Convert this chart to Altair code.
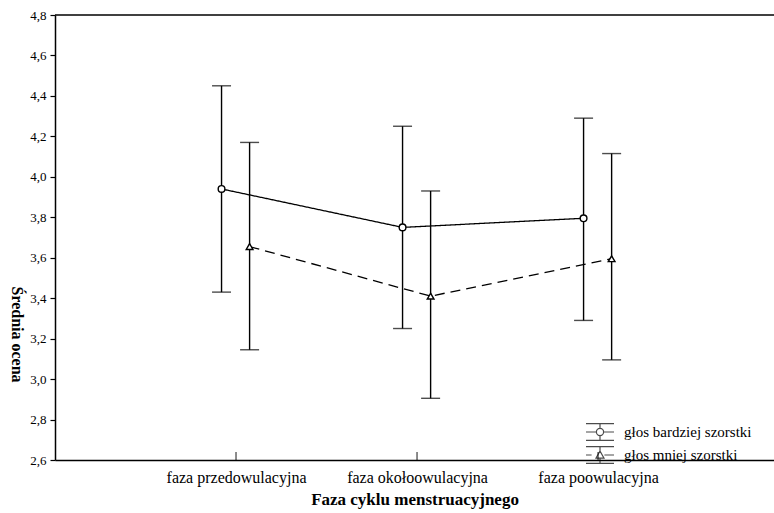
import altair as alt
import pandas as pd

categories = ["faza przedowulacyjna", "faza okołoowulacyjna", "faza poowulacyjna"]
series_names = ["głos bardziej szorstki", "głos mniej szorstki"]

mean_bardziej = [3.94, 3.75, 3.795]
low_bardziej = [3.43, 3.25, 3.29]
high_bardziej = [4.45, 4.25, 4.29]

mean_mniej = [3.655, 3.41, 3.595]
low_mniej = [3.145, 2.905, 3.095]
high_mniej = [4.17, 3.93, 4.115]

y_ticks = [2.6, 2.8, 3.0, 3.2, 3.4, 3.6, 3.8, 4.0, 4.2, 4.4, 4.6, 4.8]

rows = []
for i, c in enumerate(categories):
    rows.append({"idx": i + 1, "cat": c, "series": series_names[0],
                 "mean": mean_bardziej[i], "low": low_bardziej[i], "high": high_bardziej[i]})
    rows.append({"idx": i + 1, "cat": c, "series": series_names[1],
                 "mean": mean_mniej[i], "low": low_mniej[i], "high": high_mniej[i]})
df = pd.DataFrame(rows)
ticks_df = pd.DataFrame({"idx": [i + 1 for i in range(len(categories))]})

FONT = "Liberation Serif"
XMAX = 3.972
xscale = alt.Scale(domain=[0, XMAX], nice=False, zero=False)
yscale = alt.Scale(domain=[2.6, 4.8], nice=False, zero=False)

label_expr = " : ".join(
    [f"datum.value == {i + 1} ? '{c}'" for i, c in enumerate(categories)]
) + " : ''"

x_axis = alt.Axis(values=[1, 2, 3], labelExpr=label_expr, tickSize=0, grid=False,
                  title="Faza cyklu menstruacyjnego", labelFont=FONT, labelFontSize=16,
                  labelColor="black", labelPadding=9, titleFont=FONT, titleFontSize=17,
                  titleFontWeight="bold", titleColor="black", titlePadding=6,
                  domainColor="black", domainWidth=1.5, labelFlush=False)
y_axis = alt.Axis(values=y_ticks, labelExpr="replace(format(datum.value, '.1f'), '.', ',')",
                  grid=False, tickSize=5, tickColor="black", tickWidth=1.2,
                  title="Średnia ocena", titleAngle=90, titleX=-47, titleY=319,
                  titleBaseline="bottom",
                  labelFont=FONT, labelFontSize=13, labelColor="black", labelPadding=4,
                  titleFont=FONT, titleFontSize=16, titleFontWeight="bold", titleColor="black",
                  domainColor="black", domainWidth=1.5)

base = alt.Chart(df).transform_calculate(
    xpos=f"datum.idx + (datum.series == '{series_names[0]}' ? -0.08 : 0.075)"
)

X = alt.X("xpos:Q", scale=xscale, axis=x_axis)
Y = alt.Y("mean:Q", scale=yscale, axis=y_axis)

bars = base.mark_rule(color="black", strokeWidth=1.4).encode(
    x=X, y=alt.Y("low:Q", scale=yscale, axis=y_axis), y2="high:Q")
cap_lo = base.mark_tick(color="black", orient="horizontal", size=19, thickness=1.4).encode(
    x=X, y=alt.Y("low:Q", scale=yscale, axis=y_axis))
cap_hi = base.mark_tick(color="black", orient="horizontal", size=19, thickness=1.4).encode(
    x=X, y=alt.Y("high:Q", scale=yscale, axis=y_axis))

lines = base.mark_line(color="black", strokeWidth=1.3).encode(
    x=X, y=Y, detail="series:N",
    strokeDash=alt.StrokeDash("series:N", scale=alt.Scale(domain=series_names, range=[[1, 0], [10, 6]]),
                              legend=None))

points = base.mark_point(filled=True, fill="white", stroke="black", strokeWidth=1.4, opacity=1).encode(
    x=X, y=Y,
    shape=alt.Shape("series:N", scale=alt.Scale(domain=series_names, range=["circle", "triangle-up"]),
                    legend=None),
    size=alt.value(45))

sym1 = ("M-1.75,-1.05H1.75M-1.75,1.05H1.75M-1.75,0H-0.45M0.45,0H1.75"
        "M0,-1.05V-0.45M0,0.45V1.05M0.45,0A0.45,0.45 0 1,1 -0.45,0A0.45,0.45 0 1,1 0.45,0")
sym2 = ("M-1.75,-1.05H1.75M-1.75,1.05H1.75M-1.75,0H-1.05M0.55,0H1.75"
        "M0,-1.05V-0.5M0,0.4V1.05M0,-0.5L0.5,0.4L-0.5,0.4Z")

legend_layer = alt.Chart(df).transform_filter("false").mark_point(
    filled=False, color="black", strokeWidth=1.2).encode(
    x=X, y=Y,
    shape=alt.Shape("series:N", scale=alt.Scale(domain=series_names, range=[sym1, sym2]),
                    legend=alt.Legend(title=None, orient="none", legendX=536, legendY=408,
                                      symbolSize=256, symbolStrokeColor="black",
                                      symbolStrokeWidth=1.2, symbolFillColor="transparent",
                                      labelFont=FONT, labelFontSize=15, labelColor="black",
                                      labelOffset=15, labelLimit=0, rowPadding=1, padding=0)))

xticks = alt.Chart(ticks_df).mark_tick(color="black", orient="vertical", size=8, thickness=1.3,
                                       yOffset=-4).encode(
    x=alt.X("idx:Q", scale=xscale, axis=x_axis), y=alt.datum(2.6, scale=yscale))

frame_df = pd.DataFrame({"a": [0]})
top_line = alt.Chart(frame_df).mark_rule(color="black", strokeWidth=1.5).encode(
    x=alt.datum(0, scale=xscale), x2=alt.datum(XMAX), y=alt.datum(4.8, scale=yscale))

chart = alt.layer(top_line, xticks, bars, cap_lo, cap_hi, lines, points, legend_layer).resolve_scale(
    shape="independent", strokeDash="independent"
).properties(
    width=719, height=445,
    autosize=alt.AutoSizeParams(type="none"),
    padding={"left": 55, "top": 15, "right": 0, "bottom": 53},
    background="white",
).configure_view(stroke=None)

chart.save("out.html", embed_options={"renderer": "svg", "actions": False})
